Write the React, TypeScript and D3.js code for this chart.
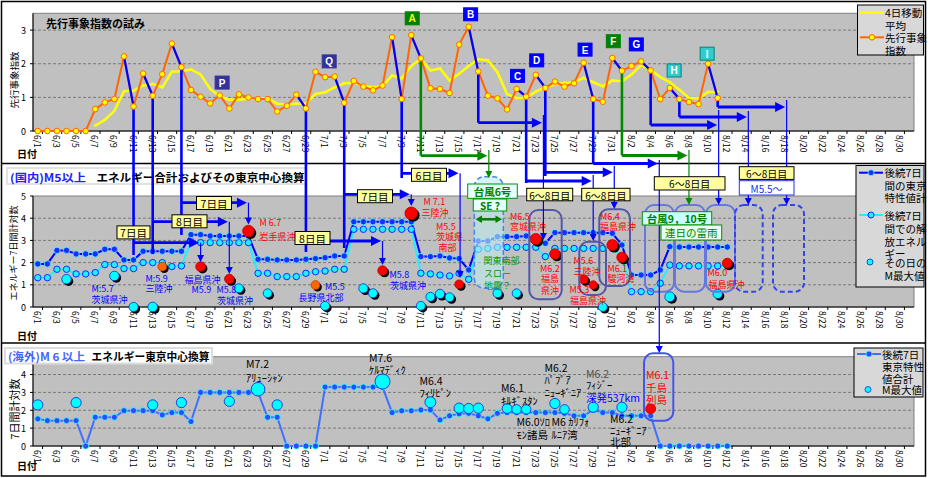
import React from "react";
import * as d3 from "d3";

const FONT = "'Noto Sans CJK JP', 'Noto Sans', sans-serif";

// ---------- categories ----------
const dates = d3.timeDay.range(new Date(2008, 5, 1), new Date(2008, 8, 1));
const dateLabels = dates.map((d) => `${d.getMonth() + 1}/${d.getDate()}`);
const labelIdx = dateLabels.map((_, i) => i).filter((i) => i % 2 === 0);
const dayIndex = (s: string) => dateLabels.indexOf(s);

const topTicks = [0, 1, 2, 3];
const midTicks = [0, 1, 2, 3, 4, 5];
const botTicks = [0, 1, 2, 3, 4];

// ---------- top panel series (6/1 ..) ----------
const leadIndex = [
  0, 0, 0, 0, 0, 0,
  0.65, 0.85, 0.95, 2.22, 0.73, 1.71, 1.05, 1.69, 2.6, 1.9,
  1.22, 1.02, 0.82, 1.06, 0.67, 1.09, 1.0, 0.95, 0.95, 0.58,
  0.75, 1.08, 0.67, 1.76,
  1.6, 1.62, 0.84, 1.49, 1.32, 1.21, 1.35, 2.79, 0.95, 2.85,
  2.16, 1.27, 1.25, 1.13, 2.57, 3.1, 1.77, 1.05, 0.97, 0.64,
  1.25, 1.02, 1.67, 1.28, 1.47, 1.32, 1.42, 2.03, 0.95, 0.87, 2.17,
  1.79, 1.93, 2.07, 1.8, 0.95, 1.28, 0.95, 0.86, 0.8, 2.0, 0.98,
];
const leadMA4: (number | null)[] = [
  null, null, null, null, null, null,
  0.16, 0.33, 0.6, 1.18, 1.2, 1.35, 1.4, 1.3, 1.76, 1.78,
  1.83, 1.68, 1.25, 1.03, 0.93, 0.93, 0.96, 0.97, 0.98, 0.81,
  0.79, 0.81, 0.81, 1.1,
  1.15, 1.3, 1.42, 1.43, 1.35, 1.3, 1.33, 1.65, 1.57, 1.93,
  2.15, 1.8, 1.86, 1.5, 1.7, 1.93, 2.13, 2.1, 1.75, 1.1,
  0.98, 0.99, 1.17, 1.3, 1.38, 1.43, 1.45, 1.58, 1.45, 1.33, 1.5,
  1.48, 1.68, 1.95, 1.83, 1.6, 1.45, 1.23, 0.98, 0.97, 1.16, 1.16,
];

// ---------- middle panel series (6/1 .. 8/12) ----------
const domUpper = [
  1.94, 1.94, 2.55, 2.55, 2.39, 2.39, 2.39, 2.6, 2.6, 2.12,
  2.12, 2.51, 2.51, 2.51, 2.51, 2.51, 3.26, 3.26, 3.2, 3.2,
  3.2, 3.2, 3.2, 2.15, 2.15, 2.12, 2.12, 2.12, 2.15, 2.18,
  2.22, 2.3, 2.3, 3.84, 3.84, 3.84, 3.84, 3.84, 3.84, 3.84,
  2.27, 2.27, 2.3, 2.21, 2.18, 1.67, 2.97, 2.97, 3.17, 3.17,
  3.17, 3.2, 3.06, 2.87, 3.35, 3.35, 3.35, 3.35, 3.35, 3.35, 3.32,
  2.79, 1.44, 1.44, 1.44, 1.67, 2.72, 2.7, 2.7, 2.7, 2.7, 2.7, 2.7,
];
const domLower = [
  1.32, 1.32, 1.7, 1.7, 1.49, 1.49, 1.55, 1.91, 1.91, 1.73,
  1.73, 2.0, 2.0, 2.0, 1.82, 1.85, 2.94, 2.9, 2.9, 2.9,
  2.9, 2.9, 2.9, 1.52, 1.52, 1.37, 1.37, 1.37, 1.52, 1.59,
  1.62, 1.7, 1.7, 3.5, 3.5, 3.5, 3.5, 3.5, 3.5, 3.5,
  1.52, 1.49, 1.44, 1.4, 1.52, 1.25, 2.6, 2.64, 2.69, 2.69,
  2.69, 2.69, 2.69, 2.27, 2.64, 2.64, 2.64, 2.64, 2.64, 2.64, 2.64,
  2.27, 0.69, 0.69, 0.69, 1.07, 1.89, 1.85, 1.85, 1.85, 1.85, 1.85, 1.85,
];
const domEqDate = ["6/4", "6/9", "6/11", "6/13", "6/14", "6/18", "6/21", "6/22", "6/23", "6/25", "6/30", "7/1", "7/5", "7/6", "7/7", "7/10", "7/11", "7/12", "7/13", "7/14", "7/15", "7/19", "7/21", "7/23", "7/25", "7/28", "7/29", "7/30", "7/31", "8/1", "8/6", "8/11", "8/12"];
const domEqValue = [1.25, 1.4, 0, 0, 1.82, 1.82, 1.26, 0.84, 3.42, 0.62, 0.99, 0.05, 0.84, 0.62, 1.64, 4.22, 0.05, 0.46, 0.59, 0.44, 1.02, 0.62, 0.62, 3.06, 2.39, 1.25, 0.99, 0, 2.79, 2.24, 0.46, 0.59, 1.97];
const domEqMag = [5.8, 5.8, 5.7, 5.9, 5.5, 5.9, 5.8, 5.6, 6.7, 5.5, 5.5, 5.6, 5.7, 5.6, 5.8, 7.1, 5.6, 5.6, 5.7, 5.6, 5.5, 5.6, 5.5, 6.5, 6.2, 5.6, 5.3, 5.6, 6.4, 6.1, 6.0, 5.7, 6.0];
const domEqClass = ["other", "other", "other", "other", "partial", "hit", "hit", "other", "hit", "other", "partial", "other", "other", "other", "hit", "hit", "other", "other", "other", "other", "hit", "other", "other", "hit", "hit", "hit", "hit", "other", "hit", "hit", "other", "other", "hit"];

// ---------- bottom panel series (6/1 .. 8/12) ----------
const abroadLine = [
  1.52, 1.42, 1.42, 1.42, 1.42, 0, 1.61, 1.61, 1.61, 1.98,
  1.98, 1.98, 1.98, 1.74, 1.87, 1.87, 1.37, 3.0, 3.0, 3.0,
  3.0, 3.0, 3.0, 3.0, 1.61, 1.61, 0, 0, 0, 0,
  3.3, 3.3, 3.3, 3.3, 3.3, 3.3, 3.3, 1.87, 1.97, 1.97,
  2.02, 2.02, 1.46, 1.69, 1.8, 1.83, 1.69, 1.52, 1.83, 1.87,
  1.87, 1.87, 1.87, 1.87, 1.87, 1.83, 1.69, 1.69, 2.02, 1.87, 1.87,
  1.69, 1.69, 1.69, 1.69, 0, 0, 0, 0, 0, 0, 0, 0,
];
const abroadEqDate = ["6/1", "6/5", "6/13", "6/16", "6/21", "6/24", "6/26", "7/7", "7/12", "7/15", "7/16", "7/17", "7/20", "7/21", "7/22", "7/25", "7/26", "7/29", "8/1", "8/4"];
const abroadEqValue = [2.3, 2.43, 2.3, 2.43, 2.5, 3.18, 2.3, 3.61, 2.45, 2.12, 2.1, 2.12, 2.1, 2.05, 2.05, 2.38, 2.05, 2.17, 2.17, 2.08];
const abroadEqMag = [6.2, 6.2, 6.2, 6.2, 6.2, 7.2, 6.2, 7.6, 6.4, 6.2, 6.2, 6.2, 6.1, 6.0, 6.0, 6.2, 6.0, 6.2, 6.2, 6.1];
const abroadEqClass = ["other", "other", "other", "other", "other", "other", "other", "other", "other", "other", "other", "other", "other", "other", "other", "other", "other", "other", "other", "hit"];

// ---------- layout ----------
const PL = 33, PR = 914;
const x = d3.scaleLinear().domain([0, dateLabels.length]).range([PL, PR]);
const xc = (i: number) => x(i + 0.5);
const yTop = d3.scaleLinear().domain([0, 3.5]).range([131, 13.3]);
const yMid = d3.scaleLinear().domain([0, 5]).range([307, 196]);
const yBot = d3.scaleLinear().domain([0, 5]).range([446, 356.7]);
const rDom = d3.scaleLinear().domain([5, 7.1]).range([3.8, 6.3]);
const rAbr = d3.scaleLinear().domain([6.2, 7.6]).range([5.1, 7.5]);

const BLUE = "#0000ff", RED = "#ff0000", GREEN = "#008a00", BLACK = "#000";

// ---------- annotations ----------
const triggers = [
  { day: "6/11", color: BLUE, stem: 255, arrowY: 242.7, target: 17, tipEnd: 262, box: { t: "7日目", cx: 133.5, cy: 232.4, w: 33 } },
  { day: "6/13", color: BLUE, stem: 254, arrowY: 221.7, target: 20, tipEnd: 274, box: { t: "8日目", cx: 189.5, cy: 221.3, w: 35 } },
  { day: "6/16", color: BLUE, stem: 235, arrowY: 202.7, target: 22, tipEnd: 224.5, box: { t: "7日目", cx: 214, cy: 203, w: 35 } },
  { day: "6/29", color: BLUE, stem: 252, arrowY: 241, target: 36, tipEnd: 265, box: { t: "8日目", cx: 312.5, cy: 238, w: 35 } },
  { day: "7/3", color: BLUE, stem: 248, arrowY: 194.3, target: 39, tipEnd: 206, box: { t: "7日目", cx: 375, cy: 196.2, w: 35 } },
  { day: "7/9", color: BLUE, stem: 178, arrowY: 173.3, target: 44.1, tipEnd: 278, box: { t: "6日目", cx: 429, cy: 174.8, w: 35 } },
  { day: "7/11", color: GREEN, stem: 155.7, arrowY: 155.7, target: 47.1, tipStart: 150, tipEnd: 178 },
  { day: "7/17", color: BLUE, stem: 122.7, arrowY: 122.7, target: 52.8, tipStart: 115, tipEnd: 240 },
  { day: "7/22", color: BLUE, stem: 183, arrowY: 181, target: 58, tipStart: 175, tipEnd: 241 },
  { day: "7/24", color: BLUE, stem: 176, arrowY: 172.3, target: 60.2, tipStart: 166, tipEnd: 209 },
  { day: "7/29", color: BLUE, stem: 164, arrowY: 163.5, target: 64.9, tipStart: 160, tipEnd: 353 },
  { day: "8/1", color: GREEN, stem: 155.5, arrowY: 155.5, target: 68, tipStart: 150, tipEnd: 205 },
  { day: "8/4", color: BLUE, stem: 125, arrowY: 125, target: 71.1, tipStart: 110, tipEnd: 205 },
  { day: "8/7", color: BLUE, stem: 117, arrowY: 117, target: 74.2, tipStart: 111, tipEnd: 205 },
  { day: "8/11", color: BLUE, stem: 107, arrowY: 107, target: 78.2, tipStart: 100, tipEnd: 205 },
];

const letterTags = [
  { t: "P", day: 19.25, v: 1.44, fill: "#333399", fg: "#fff", st: "#333399" },
  { t: "Q", day: 30.43, v: 2.07, fill: "#333399", fg: "#fff", st: "#333399" },
  { t: "A", day: 39.1, v: 3.35, fill: "#008000", fg: "#ffff00", st: "#008000" },
  { t: "B", day: 45.2, v: 3.47, fill: "#0000ff", fg: "#fff", st: "#0000ff" },
  { t: "C", day: 50.1, v: 1.64, fill: "#0000ff", fg: "#fff", st: "#0000ff" },
  { t: "D", day: 52.1, v: 2.1, fill: "#0000ff", fg: "#fff", st: "#0000ff" },
  { t: "E", day: 57.15, v: 2.42, fill: "#0000ff", fg: "#fff", st: "#0000ff" },
  { t: "F", day: 60.1, v: 2.67, fill: "#008000", fg: "#fff", st: "#008000" },
  { t: "G", day: 62.5, v: 2.575, fill: "#0000ff", fg: "#fff", st: "#0000ff" },
  { t: "H", day: 66.45, v: 1.8, fill: "#33cccc", fg: "#fff", st: "#008080" },
  { t: "I", day: 69.9, v: 2.3, fill: "#33cccc", fg: "#fff", st: "#008080" },
];

const rangeBoxes = [
  { t: "6～8日目", x: 526.7, y: 188.3, w: 46, h: 12.5 },
  { t: "6～8日目", x: 581.7, y: 188.3, w: 48.3, h: 12.5 },
  { t: "6～8日目", x: 654.3, y: 176.7, w: 70.7, h: 13.3 },
  { t: "6～8日目", x: 739.3, y: 166.7, w: 54.7, h: 12.7 },
];

const roundRects = [
  { x: 529.3, y: 210, w: 32.4, h: 89.3, s: "#5555aa", dash: "" },
  { x: 579.3, y: 241.7, w: 26.7, h: 53.3, s: "#5555aa", dash: "" },
  { x: 599.3, y: 209.3, w: 30.7, h: 76.7, s: "#5555aa", dash: "" },
  { x: 645, y: 205, w: 29, h: 86.7, s: "#6677e0", dash: "" },
  { x: 675, y: 205, w: 30, h: 86.7, s: "#6677e0", dash: "" },
  { x: 706, y: 205, w: 29, h: 86.7, s: "#6677e0", dash: "" },
  { x: 735, y: 205, w: 27.7, h: 86.7, s: "#3344ee", dash: "5,3" },
  { x: 773, y: 205, w: 31, h: 86.7, s: "#3344ee", dash: "5,3" },
  { x: 644, y: 353.3, w: 29.3, h: 67.4, s: "#4455ee", dash: "" },
];

const midNotes = [
  { x: 91.5, y: 288.5, t: "M:5.7", c: BLUE },
  { x: 91.5, y: 299.5, t: "茨城県沖", c: BLUE },
  { x: 145.5, y: 278.5, t: "M:5.9", c: BLUE },
  { x: 145.5, y: 288.5, t: "三陸沖", c: BLUE },
  { x: 184.5, y: 279, t: "福島県沖", c: BLUE },
  { x: 191.5, y: 289, t: "M5.9", c: BLUE },
  { x: 216.5, y: 289, t: "M5.8", c: BLUE },
  { x: 217, y: 300, t: "茨城県沖", c: BLUE },
  { x: 259.5, y: 222.5, t: "M 6.7", c: RED },
  { x: 259.5, y: 236.5, t: "岩手県沖", c: RED },
  { x: 325, y: 286, t: "M5.5", c: BLUE },
  { x: 298.5, y: 297, t: "長野県北部", c: BLUE },
  { x: 389.5, y: 274, t: "M5.8", c: BLUE },
  { x: 390, y: 285, t: "茨城県沖", c: BLUE },
  { x: 423.5, y: 201.5, t: "M 7.1", c: RED },
  { x: 421.5, y: 212.5, t: "三陸沖", c: RED },
  { x: 436, y: 226, t: "M5.5", c: RED },
  { x: 436, y: 236.5, t: "茨城県", c: RED },
  { x: 438.5, y: 247.5, t: "南部", c: RED },
  { x: 510, y: 216, t: "M6.5", c: RED },
  { x: 510, y: 226.5, t: "宮城県沖", c: RED },
  { x: 540, y: 268.5, t: "M6.2", c: RED },
  { x: 541, y: 278.5, t: "福島", c: RED },
  { x: 541, y: 290, t: "県沖", c: RED },
  { x: 573.5, y: 260, t: "M5.6", c: RED },
  { x: 573.5, y: 271, t: "三陸沖", c: RED },
  { x: 569.5, y: 289.5, t: "M5.3", c: RED },
  { x: 570, y: 300, t: "福島県沖", c: RED },
  { x: 600, y: 216, t: "M6.4", c: RED },
  { x: 600, y: 226.5, t: "福島県沖", c: RED },
  { x: 607.5, y: 268.5, t: "M6.1", c: RED },
  { x: 607.5, y: 278.5, t: "駿河湾", c: RED },
  { x: 707.5, y: 272.5, t: "M6.0", c: RED },
  { x: 708.5, y: 284, t: "福島県沖", c: RED },
  { x: 483.5, y: 260.5, t: "関東南部", c: "#009900" },
  { x: 484, y: 273.5, t: "スロー", c: "#009900" },
  { x: 484, y: 285, t: "地震？", c: "#009900" },
];

const botNotes = [
  { x: 246, y: 363, t: "M7.2", c: BLACK },
  { x: 246, y: 377, t: "ｱﾘｭｰｼｬﾝ", c: BLACK },
  { x: 369, y: 357, t: "M7.6", c: BLACK },
  { x: 369, y: 369, t: "ｹﾙﾏﾃﾞｨｸ", c: BLACK },
  { x: 419.5, y: 380, t: "M6.4", c: BLACK },
  { x: 419.5, y: 392, t: "ﾌｨﾘﾋﾟﾝ", c: BLACK },
  { x: 501, y: 387, t: "M6.1", c: BLACK },
  { x: 501, y: 400, t: "ｷﾙｷﾞｽﾀﾝ", c: BLACK },
  { x: 544.5, y: 367, t: "M6.2", c: BLACK },
  { x: 544.5, y: 379, t: "ﾊﾟﾌﾟｱ", c: BLACK },
  { x: 544.5, y: 392, t: "ﾆｭｰｷﾞﾆｱ", c: BLACK },
  { x: 516.5, y: 421.5, t: "M6.0ｿﾛ", c: BLACK },
  { x: 516.5, y: 434, t: "ﾓﾝ諸島", c: BLACK },
  { x: 551.5, y: 421.5, t: "M6 ｶﾘﾌｫ", c: BLACK },
  { x: 551.5, y: 434, t: "ﾙﾆｱ湾", c: BLACK },
  { x: 586, y: 373.5, t: "M6.2", c: "#505050" },
  { x: 586, y: 384.5, t: "ﾌｨｼﾞｰ", c: BLACK },
  { x: 586, y: 397, t: "深発537km", c: BLUE },
  { x: 610, y: 418.5, t: "M6.2", c: BLACK },
  { x: 610, y: 430, t: "ﾆｭｰｷﾞﾆｱ", c: BLACK },
  { x: 610, y: 441, t: "北部", c: BLACK },
  { x: 646, y: 374.5, t: "M6.1", c: RED },
  { x: 646, y: 387, t: "千島", c: RED },
  { x: 646, y: 399.5, t: "列島", c: RED },
];

// ---------- helpers ----------
function HArrow({ x0, x1, y, color }: any) {
  return (
    <g>
      <line x1={x0} y1={y} x2={x1 - 8} y2={y} stroke={color} strokeWidth={2.8} />
      <polygon points={`${x1},${y} ${x1 - 10},${y - 5} ${x1 - 10},${y + 5}`} fill={color} />
    </g>
  );
}
function VArrow({ x: ax, y0, y1, color }: any) {
  return (
    <g>
      <line x1={ax} y1={y0} x2={ax} y2={y1 - 4} stroke={color} strokeWidth={1.2} />
      <polygon points={`${ax},${y1} ${ax - 3.5},${y1 - 7} ${ax + 3.5},${y1 - 7}`} fill={color} />
    </g>
  );
}

function Frame({ y, ticks, axisLabelY }: any) {
  const [y0, y1] = y.range();
  return (
    <g>
      <rect x={PL} y={y1} width={PR - PL} height={y0 - y1} fill="#c0c0c0" stroke="#808080" strokeWidth={1} />
      {ticks.filter((t: number) => t > 0 && y(t) > y1 + 1).map((t: number) => (
        <line key={"g" + t} x1={PL} x2={PR} y1={y(t)} y2={y(t)} stroke="#7a7a7a" strokeDasharray="3,2" strokeWidth={1} />
      ))}
      <line x1={PL} x2={PL} y1={y1} y2={y0} stroke="#000" strokeWidth={1} />
      <line x1={PL} x2={PR} y1={y0} y2={y0} stroke="#000" strokeWidth={1.2} />
      {ticks.map((t: number) => (
        <g key={"t" + t}>
          <line x1={PL - 3} x2={PL} y1={y(t)} y2={y(t)} stroke="#000" />
          <text x={PL - 7} y={y(t)} textAnchor="end" dominantBaseline="central" fontSize={9}>{t}</text>
        </g>
      ))}
      {d3.range(1, dateLabels.length, 2).map((k) => (
        <line key={"xt" + k} x1={x(k)} x2={x(k)} y1={y0} y2={y0 + 3} stroke="#000" />
      ))}
      {labelIdx.map((i) => (
        <text key={"xl" + i} transform={`translate(${xc(i)},${y0 + 4}) rotate(90)`} fontSize={8.5} dominantBaseline="central">
          {dateLabels[i]}
        </text>
      ))}
      <text x={17} y={axisLabelY} fontSize={10} fontWeight="bold" dominantBaseline="central">日付</text>
    </g>
  );
}

function Note({ n, size = 9 }: any) {
  return (
    <text x={n.x} y={n.y} fill={n.c} fontSize={size} dominantBaseline="central">{n.t}</text>
  );
}

export default function App() {
  const lineOf = (y: any) =>
    d3.line<number | null>()
      .defined((d) => d != null)
      .x((_, i) => xc(i))
      .y((d) => y(d as number));

  const topLine = lineOf(yTop);
  const midLine = lineOf(yMid);
  const botLine = lineOf(yBot);

  return (
    <svg width={930} height={478} style={{ position: "absolute", left: 0, top: 0, background: "#fff" }} fontFamily={FONT}>
      {/* outer frame */}
      <rect x={1.5} y={1.5} width={924} height={474.5} fill="#fff" stroke="#000" strokeWidth={1.5} />
      <line x1={1.5} x2={925.5} y1={163.5} y2={163.5} stroke="#000" strokeWidth={1.5} />
      <line x1={1.5} x2={925.5} y1={343} y2={343} stroke="#000" strokeWidth={1.5} />

      {/* ================= TOP PANEL ================= */}
      <Frame y={yTop} ticks={topTicks} axisLabelY={153} />
      <text transform="translate(14,80) rotate(-90)" fontSize={9.5} textAnchor="middle" dominantBaseline="central">先行事象指数</text>
      <text x={46} y={23} fontSize={11} fontWeight="bold" dominantBaseline="central">先行事象指数の試み</text>

      <path d={topLine(leadMA4) || ""} fill="none" stroke="#ffff00" strokeWidth={2.5} />
      {leadMA4.map((v, i) => v == null ? null : (
        <circle key={"ma" + i} cx={xc(i)} cy={yTop(v)} r={1.4} fill="#ffff00" />
      ))}
      <path d={topLine(leadIndex) || ""} fill="none" stroke="#ff6600" strokeWidth={2} />
      {triggers.map((tr, k) => {
        const i = dayIndex(tr.day);
        return (
          <line key={"ov" + k} x1={xc(i - 1)} y1={yTop(leadIndex[i - 1])} x2={xc(i)} y2={yTop(leadIndex[i])} stroke={BLUE} strokeWidth={2.2} />
        );
      })}

      {/* ================= MIDDLE PANEL ================= */}
      <Frame y={yMid} ticks={midTicks} axisLabelY={335} />
      <text transform="translate(13,253) rotate(-90)" fontSize={9} textAnchor="middle" dominantBaseline="central">エネルギー7日間計対数</text>

      <path d={midLine(domLower) || ""} fill="none" stroke="#22eeff" strokeWidth={2} />
      <path d={midLine(domUpper) || ""} fill="none" stroke="#0000ff" strokeWidth={2} />
      {domLower.map((v, i) => (
        <circle key={"dl" + i} cx={xc(i)} cy={yMid(v)} r={3.2} fill="#22eeff" stroke="#0000ff" strokeWidth={0.8} />
      ))}
      {domUpper.map((v, i) => (
        <circle key={"du" + i} cx={xc(i)} cy={yMid(v)} r={3.2} fill="#1530ff" stroke="#66ffff" strokeWidth={0.8} />
      ))}

      {/* typhoon 6 dashed region */}
      <rect x={474.3} y={176.7} width={29} height={111.6} rx={10} fill="rgba(190,235,235,0.6)" stroke="#4488ee" strokeWidth={1.5} strokeDasharray="5,3" />

      {domEqDate.map((d, k) => {
        const i = dayIndex(d);
        const r = rDom(domEqMag[k]);
        const cls = domEqClass[k];
        const fill = cls === "hit" ? "#ff0000" : cls === "partial" ? "#ff6600" : "#00ffff";
        const st = cls === "hit" ? "#b00000" : cls === "partial" ? "#b04000" : "#0030c0";
        return (
          <g key={"de" + k}>
            <circle cx={xc(i) + 2} cy={yMid(domEqValue[k]) + 2} r={r} fill="#000" />
            <circle cx={xc(i)} cy={yMid(domEqValue[k])} r={r} fill={fill} stroke={st} strokeWidth={0.8} />
          </g>
        );
      })}

      {/* middle title */}
      <rect x={7} y={168} width={299} height={16} fill="#fff" stroke="#e2e2e2" strokeWidth={2} />
      <text x={10} y={176.5} fontSize={11} fontWeight="bold" fill="#2222ff" dominantBaseline="central" textLength={76} lengthAdjust="spacingAndGlyphs">(国内)M5以上</text>
      <text x={96.5} y={176.5} fontSize={11} fontWeight="bold" dominantBaseline="central" textLength={208} lengthAdjust="spacingAndGlyphs">エネルギー合計およびその東京中心換算</text>

      {/* ================= BOTTOM PANEL ================= */}
      <Frame y={yBot} ticks={botTicks} axisLabelY={465} />
      <text transform="translate(14,409) rotate(-90)" fontSize={11} textAnchor="middle" dominantBaseline="central">7日間計対数</text>

      <path d={botLine(abroadLine) || ""} fill="none" stroke="#4070ff" strokeWidth={2} />
      {abroadLine.map((v, i) => (
        <circle key={"ab" + i} cx={xc(i)} cy={yBot(v)} r={3.1} fill="#2a4dff" stroke="#44ffff" strokeWidth={0.9} />
      ))}
      {abroadEqDate.map((d, k) => {
        const i = dayIndex(d);
        const hit = abroadEqClass[k] === "hit";
        return (
          <circle key={"ae" + k} cx={xc(i)} cy={yBot(abroadEqValue[k])} r={rAbr(abroadEqMag[k])}
            fill={hit ? "#ff0000" : "#00ffff"} stroke={hit ? "#cc0000" : "#1030e0"} strokeWidth={0.9} />
        );
      })}
      <rect x={5} y={348} width={207} height={15.5} fill="#fff" stroke="#dcdcdc" strokeWidth={2} />
      <text x={8} y={356} fontSize={11} fontWeight="bold" fill="#4466ff" dominantBaseline="central" textLength={77} lengthAdjust="spacingAndGlyphs">(海外)M 6 以上</text>
      <text x={91.5} y={356} fontSize={11} fontWeight="bold" dominantBaseline="central" textLength={118} lengthAdjust="spacingAndGlyphs">エネルギー東京中心換算</text>

      {/* ================= ANNOTATIONS ================= */}
      {roundRects.map((b, k) => (
        <rect key={"rr" + k} x={b.x} y={b.y} width={b.w} height={b.h} rx={9} fill="none" stroke={b.s} strokeWidth={2} strokeDasharray={b.dash || undefined} />
      ))}

      {midNotes.map((n, k) => <Note key={"mn" + k} n={n} size={9} />)}
      {botNotes.map((n, k) => <Note key={"bn" + k} n={n} size={10.5} />)}

      {/* stems + arrows */}
      {triggers.map((tr, k) => {
        const i = dayIndex(tr.day);
        const sx = xc(i);
        const tx = xc(tr.target);
        return (
          <g key={"tr" + k}>
            <line x1={sx} y1={yTop(leadIndex[i]) + 2} x2={sx} y2={tr.stem} stroke={tr.color} strokeWidth={2.6} />
            <HArrow x0={sx} x1={tx - 1.5} y={tr.arrowY} color={tr.color} />
            <VArrow x={tx} y0={tr.tipStart ?? tr.arrowY} y1={tr.tipEnd} color={tr.color} />
          </g>
        );
      })}

      {/* markers of lead index on top */}
      {leadIndex.map((v, i) => (
        <circle key={"li" + i} cx={xc(i)} cy={yTop(v)} r={2.8} fill="#ffff00" stroke="#ff6600" strokeWidth={1} />
      ))}

      {/* letter tags */}
      {letterTags.map((g, k) => (
        <g key={"lt" + k}>
          <rect x={xc(g.day) - 7} y={yTop(g.v) - 6.5} width={14} height={13} fill={g.fill} stroke={g.st} strokeWidth={1} />
          <text x={xc(g.day)} y={yTop(g.v) + 0.5} fill={g.fg} fontSize={10} fontWeight="bold" textAnchor="middle" dominantBaseline="central" fontFamily="'Liberation Sans', Arial, sans-serif">{g.t}</text>
        </g>
      ))}

      {/* day-count boxes */}
      {triggers.filter((t) => t.box).map((tr, k) => (
        <g key={"bx" + k}>
          <rect x={tr.box!.cx - tr.box!.w / 2} y={tr.box!.cy - 6.5} width={tr.box!.w} height={13} fill="#ffffa0" stroke="#000" strokeWidth={1} />
          <text x={tr.box!.cx} y={tr.box!.cy + 0.5} fontSize={10.5} textAnchor="middle" dominantBaseline="central">{tr.box!.t}</text>
        </g>
      ))}
      {rangeBoxes.map((b, k) => (
        <g key={"rb" + k}>
          <rect x={b.x} y={b.y} width={b.w} height={b.h} fill="#ffffa0" stroke="#000" strokeWidth={1} />
          <text x={b.x + b.w / 2} y={b.y + b.h / 2 + 0.5} fontSize={10} textAnchor="middle" dominantBaseline="central">{b.t}</text>
        </g>
      ))}
      <rect x={739.3} y={180.7} width={54.7} height={14.3} fill="#fff" stroke="#2233ee" strokeWidth={1} />
      <text x={766.6} y={188.3} fontSize={10} fill="#2233ee" textAnchor="middle" dominantBaseline="central">M5.5～</text>

      {/* typhoon labels */}
      <rect x={467.7} y={184} width={49.6} height={14.3} fill="#e6ffff" stroke="#009000" strokeWidth={1} />
      <text x={492.5} y={191.5} fontSize={10.5} fontWeight="bold" fill="#008000" textAnchor="middle" dominantBaseline="central">台風6号</text>
      <rect x={473.3} y={199} width={33.4} height={12} fill="#e6ffff" stroke="#009000" strokeWidth={1} />
      <text x={490} y={205.3} fontSize={10} fontWeight="bold" fill="#008000" textAnchor="middle" dominantBaseline="central">SE ?</text>
      <line x1={479} x2={498} y1={219.3} y2={219.3} stroke="#008000" strokeWidth={2.5} />
      <polygon points="475.5,219.3 482,215.5 482,223.1" fill="#008000" />
      <polygon points="502,219.3 495.5,215.5 495.5,223.1" fill="#008000" />

      <rect x={642.3} y={211.7} width={69.4} height={13.3} fill="#ccffff" stroke="#009000" strokeWidth={1} />
      <text x={677} y={218.6} fontSize={10.5} fontWeight="bold" fill="#008000" textAnchor="middle" dominantBaseline="central">台風9，10号</text>
      <rect x={661} y={225} width={60.7} height={15} fill="#e6fff0" stroke="#009000" strokeWidth={1} />
      <text x={691.3} y={232.8} fontSize={10.5} fill="#008000" textAnchor="middle" dominantBaseline="central">連日の雷雨</text>

      {/* ================= LEGENDS ================= */}
      <rect x={857.5} y={5} width={66} height={50} fill="#d8d8d8" stroke="#000" strokeWidth={1} />
      <line x1={860} x2={884} y1={12.7} y2={12.7} stroke="#ffff00" strokeWidth={2.5} />
      <circle cx={872} cy={12.7} r={1.6} fill="#ffff00" />
      <text x={885} y={12.7} fontSize={10.5} dominantBaseline="central">4日移動</text>
      <text x={885} y={25} fontSize={10.5} dominantBaseline="central">平均</text>
      <line x1={860} x2={884} y1={37.3} y2={37.3} stroke="#ff6600" strokeWidth={2} />
      <circle cx={872} cy={37.3} r={2.8} fill="#ffff00" stroke="#ff6600" />
      <text x={885} y={37.3} fontSize={10.5} dominantBaseline="central">先行事象</text>
      <text x={885} y={50} fontSize={10.5} dominantBaseline="central">指数</text>

      <rect x={856} y={165.5} width={68} height={121.5} fill="#d8d8d8" stroke="#000" strokeWidth={1} />
      <line x1={859} x2={883} y1={172.7} y2={172.7} stroke="#0000ff" strokeWidth={2} />
      <circle cx={871} cy={172.7} r={3} fill="#1530ff" stroke="#66ffff" strokeWidth={0.8} />
      <text x={884.5} y={172.7} fontSize={10.5} dominantBaseline="central">後続7日</text>
      <text x={884.5} y={185} fontSize={10.5} dominantBaseline="central">間の東京</text>
      <text x={884.5} y={197.7} fontSize={10.5} dominantBaseline="central">特性値計</text>
      <line x1={859} x2={883} y1={215} y2={215} stroke="#22eeff" strokeWidth={2} />
      <circle cx={871} cy={215} r={3} fill="#22eeff" stroke="#0000ff" strokeWidth={0.8} />
      <text x={884.5} y={215} fontSize={10.5} dominantBaseline="central">後続7日</text>
      <text x={884.5} y={228.3} fontSize={10.5} dominantBaseline="central">間での解</text>
      <text x={884.5} y={241.5} fontSize={10.5} dominantBaseline="central">放エネル</text>
      <text x={884.5} y={253} fontSize={10.5} dominantBaseline="central">ギー</text>
      <text x={884.5} y={262} fontSize={10.5} dominantBaseline="central">その日の</text>
      <text x={884.5} y={275.5} fontSize={10.5} dominantBaseline="central">M最大値</text>
      <circle cx={870} cy={262} r={3} fill="#00ffff" stroke="#0030c0" strokeWidth={0.8} />

      <rect x={854} y={348} width={69} height={49} fill="#d8d8d8" stroke="#000" strokeWidth={1} />
      <line x1={857} x2={881} y1={354} y2={354} stroke="#4070ff" strokeWidth={2} />
      <circle cx={869} cy={354} r={3} fill="#2a4dff" stroke="#44ffff" strokeWidth={0.8} />
      <text x={882} y={354} fontSize={10.5} dominantBaseline="central">後続7日</text>
      <text x={882} y={366.7} fontSize={10.5} dominantBaseline="central">東京特性</text>
      <text x={882} y={378.5} fontSize={10.5} dominantBaseline="central">値合計</text>
      <text x={882} y={389.5} fontSize={10.5} dominantBaseline="central">M最大値</text>
      <circle cx={868} cy={389.5} r={3} fill="#00ffff" stroke="#1030e0" strokeWidth={0.8} />
    </svg>
  );
}
